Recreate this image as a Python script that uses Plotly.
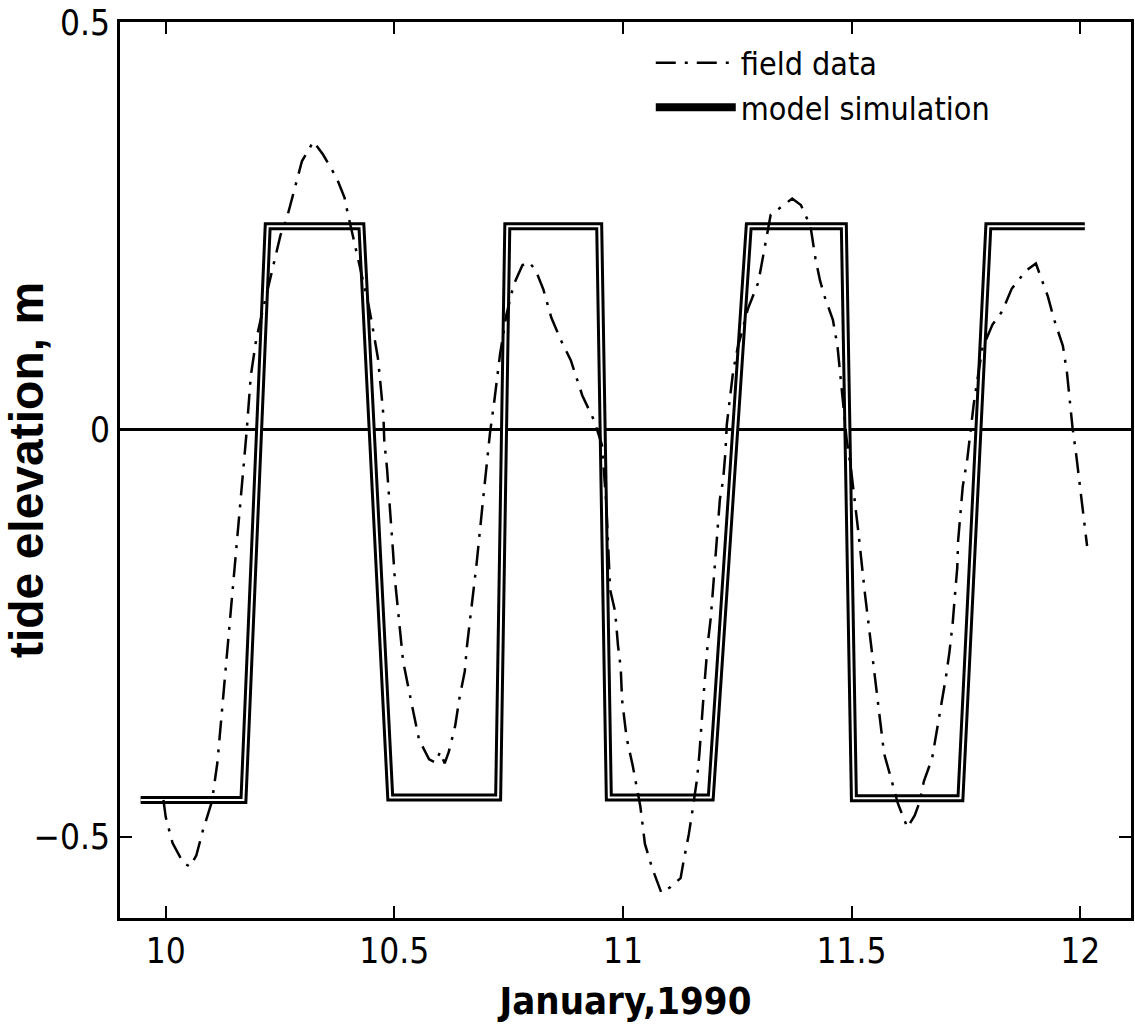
import plotly.graph_objects as go

# ---- data ----
model_day = [9.945, 10.170, 10.223, 10.428, 10.491, 10.727, 10.747, 10.948,
             10.969, 11.192, 11.275, 11.483, 11.505, 11.738, 11.799, 12.010]
model_elev = [-0.455, -0.455, 0.25, 0.25, -0.452, -0.452, 0.25, 0.25,
              -0.452, -0.452, 0.25, 0.25, -0.453, -0.453, 0.25, 0.25]

field_day = [9.995, 10.000, 10.015, 10.038, 10.053, 10.067, 10.081, 10.101, 10.113,
             10.142, 10.167, 10.177, 10.186, 10.198, 10.214, 10.237, 10.251, 10.264,
             10.280, 10.298, 10.323, 10.344, 10.374, 10.391, 10.398, 10.419, 10.444,
             10.454, 10.464, 10.470, 10.476, 10.478, 10.484, 10.497, 10.501, 10.507,
             10.513, 10.519, 10.531, 10.542, 10.554, 10.576, 10.590, 10.600, 10.610,
             10.619, 10.633, 10.642, 10.654, 10.659, 10.666, 10.673, 10.680, 10.692,
             10.709, 10.719, 10.731, 10.745, 10.761, 10.780, 10.794, 10.809, 10.826,
             10.843, 10.864, 10.886, 10.911, 10.937, 10.954, 10.963, 10.972, 10.983,
             10.989, 10.995, 10.998, 11.008, 11.021, 11.038, 11.048, 11.064, 11.084,
             11.104, 11.126, 11.132, 11.144, 11.153, 11.162, 11.167, 11.172, 11.177,
             11.185, 11.192, 11.197, 11.202, 11.212, 11.219, 11.224, 11.227, 11.234,
             11.241, 11.251, 11.273, 11.296, 11.307, 11.323, 11.352, 11.370, 11.389,
             11.410, 11.421, 11.431, 11.440, 11.459, 11.469, 11.481, 11.489, 11.499,
             11.503, 11.515, 11.529, 11.545, 11.563, 11.571, 11.586, 11.601, 11.622,
             11.638, 11.649, 11.658, 11.676, 11.686, 11.697, 11.706, 11.714, 11.721,
             11.726, 11.731, 11.733, 11.738, 11.743, 11.753, 11.760, 11.767, 11.779,
             11.786, 11.808, 11.830, 11.850, 11.881, 11.903, 11.918, 11.929, 11.943,
             11.962, 11.971, 11.977, 11.983, 11.991, 11.999, 12.005, 12.015]
field_elev = [-0.455, -0.476, -0.508, -0.532, -0.537, -0.523, -0.493, -0.457, -0.409,
              -0.228, -0.069, -0.002, 0.066, 0.111, 0.151, 0.204, 0.239, 0.258,
              0.292, 0.330, 0.354, 0.338, 0.309, 0.285, 0.266, 0.215, 0.152,
              0.121, 0.088, 0.054, 0.018, -0.014, -0.048, -0.149, -0.183, -0.216,
              -0.252, -0.284, -0.318, -0.350, -0.381, -0.405, -0.409, -0.396, -0.410,
              -0.396, -0.364, -0.331, -0.297, -0.265, -0.231, -0.198, -0.164, -0.097,
              -0.005, 0.037, 0.092, 0.141, 0.178, 0.202, 0.206, 0.196, 0.172,
              0.138, 0.110, 0.085, 0.042, 0.011, -0.019, -0.087, -0.197, -0.224,
              -0.265, -0.292, -0.332, -0.379, -0.412, -0.463, -0.509, -0.539, -0.569,
              -0.562, -0.551, -0.532, -0.497, -0.464, -0.429, -0.399, -0.356, -0.321,
              -0.265, -0.231, -0.195, -0.154, -0.085, -0.062, -0.028, 0.006, 0.039,
              0.072, 0.101, 0.148, 0.181, 0.213, 0.264, 0.276, 0.284, 0.276,
              0.250, 0.210, 0.183, 0.165, 0.135, 0.103, 0.038, -0.011, -0.050,
              -0.069, -0.127, -0.201, -0.275, -0.363, -0.398, -0.428, -0.459, -0.489,
              -0.474, -0.457, -0.432, -0.404, -0.370, -0.337, -0.305, -0.273, -0.238,
              -0.203, -0.170, -0.136, -0.103, -0.070, -0.036, -0.003, 0.031, 0.076,
              0.100, 0.129, 0.146, 0.173, 0.195, 0.204, 0.180, 0.164, 0.135,
              0.103, 0.070, 0.038, 0.003, -0.030, -0.065, -0.096, -0.143]

x_ticks = [10, 10.5, 11, 11.5, 12]
x_tick_text = ["10", "10.5", "11", "11.5", "12"]
y_ticks = [-0.5, 0, 0.5]
y_tick_text = ["\u22120.5", "0", "0.5"]

NARROW = "DejaVu Sans Condensed, Liberation Sans Narrow, Arial Narrow, sans-serif"
BOLD = "Liberation Sans, Arial, Helvetica, sans-serif"

fig = go.Figure()

fig.add_trace(go.Scatter(
    x=model_day, y=model_elev, mode="lines", name="model simulation",
    line=dict(color="black", width=8), legendrank=2))
fig.add_trace(go.Scatter(
    x=model_day, y=model_elev, mode="lines", showlegend=False, hoverinfo="skip",
    line=dict(color="white", width=2)))
fig.add_trace(go.Scatter(
    x=field_day, y=field_elev, mode="lines", name="field data",
    line=dict(color="black", width=2.5, dash="20px,9px,3px,9px"), legendrank=1))

axis_common = dict(
    showline=True, linecolor="black", linewidth=3, mirror="ticks",
    ticks="inside", ticklen=12, tickwidth=2, tickcolor="black",
    showgrid=False, tickfont=dict(family=NARROW, size=35, color="black"),
)

fig.update_xaxes(
    range=[9.90, 12.111], tickvals=x_ticks, ticktext=x_tick_text, zeroline=False,
    title=dict(text="<b>January,1990</b>", font=dict(family=NARROW, size=38, color="black"),
               standoff=18),
    **axis_common)
fig.update_yaxes(
    range=[-0.6, 0.5008], tickvals=y_ticks, ticktext=y_tick_text,
    zeroline=True, zerolinecolor="black", zerolinewidth=2.5,
    title=dict(text="<b>tide elevation, m</b>", font=dict(family=BOLD, size=48, color="black"),
               standoff=14),
    **axis_common)

fig.update_layout(
    width=1135, height=1036,
    margin=dict(l=120, r=4, t=22, b=118, autoexpand=False),
    plot_bgcolor="white", paper_bgcolor="white",
    showlegend=True,
    legend=dict(x=0.525, y=0.985, xanchor="left", yanchor="top",
                bgcolor="rgba(0,0,0,0)", borderwidth=0,
                font=dict(family=NARROW, size=32, color="black"),
                itemwidth=80, tracegroupgap=0, traceorder="normal"),
)

fig.write_html("out.html")
